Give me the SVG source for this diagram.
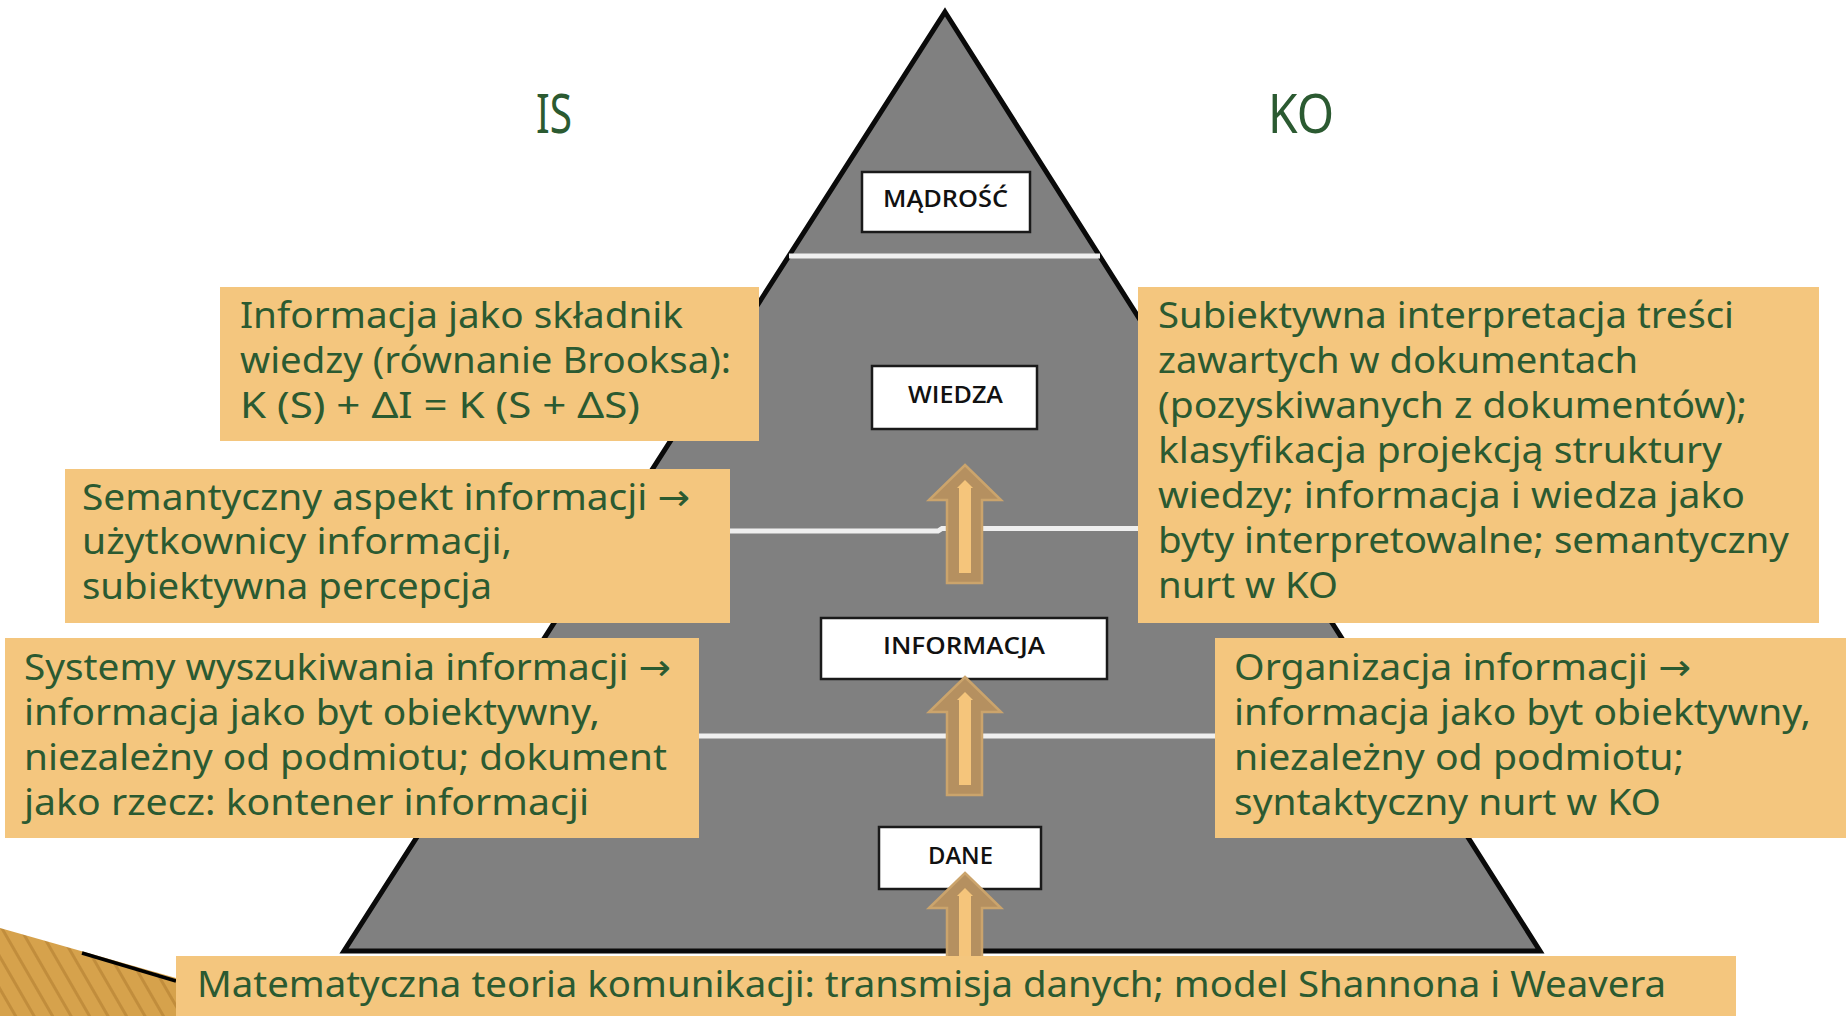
<svg xmlns="http://www.w3.org/2000/svg" width="1846" height="1016" viewBox="0 0 1846 1016">
<defs>
<style>
.t{font-family:"Noto Sans","Open Sans","DejaVu Sans",sans-serif;font-size:36px;fill:#2b5a31}
.h{font-family:"Noto Sans","Open Sans",sans-serif;font-size:54px;fill:#2b5a31}
.tan{fill:#f4c67e}
.lvl{fill:#ffffff;stroke:#1a1a1a;stroke-width:2.5}
.lt{font-family:"Open Sans","Liberation Sans",sans-serif;font-size:23px;font-weight:600;fill:#111111;text-anchor:middle}
.sep{fill:none;stroke:#efefef;stroke-width:5}
.ao{fill:#b59060;stroke:#cba46c;stroke-width:2.5}
.ai{fill:#f5c57b}
</style>
<pattern id="stripes" patternUnits="userSpaceOnUse" width="16" height="16" patternTransform="rotate(-30)">
<rect width="16" height="16" fill="#d6a24c"/>
<rect width="3" height="16" fill="#c18d3c"/>
</pattern>
</defs>
<rect width="1846" height="1016" fill="#ffffff"/>

<g id="decoration">
<polygon points="0,928 176,978 176,1016 0,1016" fill="url(#stripes)"/>
<polyline points="82,953 176,981" fill="none" stroke="#000" stroke-width="3.5"/>
</g>

<g id="pyramid">
<polygon points="945,12 1540,951 344,951" fill="#808080" stroke="#0a0a0a" stroke-width="5" stroke-linejoin="miter"/>
<line class="sep" x1="789" y1="256" x2="1100" y2="256"/>
<path class="sep" d="M613,531 L938,531 L942,528.5 L1273,528.5"/>
<line class="sep" x1="482" y1="736" x2="1404" y2="736"/>
</g>

<g id="label-IS"><text class="h" x="536" y="133" textLength="36" lengthAdjust="spacingAndGlyphs">IS</text></g>
<g id="label-KO"><text class="h" x="1268" y="133" textLength="66" lengthAdjust="spacingAndGlyphs">KO</text></g>

<g id="node-madrosc">
<rect class="lvl" x="862" y="172" width="168" height="60"/>
<text class="lt" x="945.5" y="207" textLength="125" lengthAdjust="spacingAndGlyphs">MĄDROŚĆ</text>
</g>
<g id="node-wiedza">
<rect class="lvl" x="872" y="366" width="165" height="63"/>
<text class="lt" x="955.5" y="403" textLength="95" lengthAdjust="spacingAndGlyphs">WIEDZA</text>
</g>
<g id="node-informacja">
<rect class="lvl" x="821" y="618" width="286" height="61"/>
<text class="lt" x="964" y="654" textLength="162" lengthAdjust="spacingAndGlyphs">INFORMACJA</text>
</g>
<g id="node-dane">
<rect class="lvl" x="879" y="827" width="162" height="62"/>
<text class="lt" x="960.5" y="864" textLength="65" lengthAdjust="spacingAndGlyphs">DANE</text>
</g>

<g id="connectors">
<g id="arrow-informacja-wiedza">
<polygon class="ao" points="965,465 1001,500 982,500 982,583 947,583 947,500 929,500"/>
<polygon class="ai" points="965,480 973,488 971,488 971,573 959,573 959,488 957,488"/>
</g>
<g id="arrow-dane-informacja">
<polygon class="ao" points="965,677 1001,712 982,712 982,795 947,795 947,712 929,712"/>
<polygon class="ai" points="965,692 973,700 971,700 971,785 959,785 959,700 957,700"/>
</g>
<g id="arrow-base-dane">
<polygon class="ao" points="965,873 1001,908 982,908 982,991 947,991 947,908 929,908"/>
<polygon class="ai" points="965,888 973,896 971,896 971,981 959,981 959,896 957,896"/>
</g>
</g>

<g id="box-brooks">
<rect class="tan" x="220" y="287" width="539" height="154"/>
<text class="t" x="240" y="328" textLength="443" lengthAdjust="spacingAndGlyphs">Informacja jako składnik</text>
<text class="t" x="240" y="373" textLength="491" lengthAdjust="spacingAndGlyphs">wiedzy (równanie Brooksa):</text>
<text class="t" x="240" y="418" textLength="400" lengthAdjust="spacingAndGlyphs">K (S) + ΔI = K (S + ΔS)</text>
</g>

<g id="box-semantyczny">
<rect class="tan" x="65" y="469" width="665" height="154"/>
<text class="t" x="82" y="510" textLength="608" lengthAdjust="spacingAndGlyphs">Semantyczny aspekt informacji →</text>
<text class="t" x="82" y="554" textLength="430" lengthAdjust="spacingAndGlyphs">użytkownicy informacji,</text>
<text class="t" x="82" y="599" textLength="410" lengthAdjust="spacingAndGlyphs">subiektywna percepcja</text>
</g>

<g id="box-systemy">
<rect class="tan" x="5" y="638" width="694" height="200"/>
<text class="t" x="24" y="680" textLength="647" lengthAdjust="spacingAndGlyphs">Systemy wyszukiwania informacji →</text>
<text class="t" x="24" y="724.5" textLength="576" lengthAdjust="spacingAndGlyphs">informacja jako byt obiektywny,</text>
<text class="t" x="24" y="769.5" textLength="643" lengthAdjust="spacingAndGlyphs">niezależny od podmiotu; dokument</text>
<text class="t" x="24" y="814.5" textLength="565" lengthAdjust="spacingAndGlyphs">jako rzecz: kontener informacji</text>
</g>

<g id="box-subiektywna">
<rect class="tan" x="1138" y="287" width="681" height="336"/>
<text class="t" x="1158" y="328" textLength="576" lengthAdjust="spacingAndGlyphs">Subiektywna interpretacja treści</text>
<text class="t" x="1158" y="372.5" textLength="480" lengthAdjust="spacingAndGlyphs">zawartych w dokumentach</text>
<text class="t" x="1158" y="417.5" textLength="589" lengthAdjust="spacingAndGlyphs">(pozyskiwanych z dokumentów);</text>
<text class="t" x="1158" y="463" textLength="564" lengthAdjust="spacingAndGlyphs">klasyfikacja projekcją struktury</text>
<text class="t" x="1158" y="508" textLength="587" lengthAdjust="spacingAndGlyphs">wiedzy; informacja i wiedza jako</text>
<text class="t" x="1158" y="552.5" textLength="631" lengthAdjust="spacingAndGlyphs">byty interpretowalne; semantyczny</text>
<text class="t" x="1158" y="597.5" textLength="180" lengthAdjust="spacingAndGlyphs">nurt w KO</text>
</g>

<g id="box-organizacja">
<rect class="tan" x="1215" y="638" width="631" height="200"/>
<text class="t" x="1234" y="680" textLength="457" lengthAdjust="spacingAndGlyphs">Organizacja informacji →</text>
<text class="t" x="1234" y="724.5" textLength="577" lengthAdjust="spacingAndGlyphs">informacja jako byt obiektywny,</text>
<text class="t" x="1234" y="769.5" textLength="450" lengthAdjust="spacingAndGlyphs">niezależny od podmiotu;</text>
<text class="t" x="1234" y="814.5" textLength="427" lengthAdjust="spacingAndGlyphs">syntaktyczny nurt w KO</text>
</g>

<g id="box-matematyczna">
<rect class="tan" x="176" y="956" width="1560" height="60"/>
<text class="t" x="197" y="997" textLength="1469" lengthAdjust="spacingAndGlyphs">Matematyczna teoria komunikacji: transmisja danych; model Shannona i Weavera</text>
</g>
</svg>
